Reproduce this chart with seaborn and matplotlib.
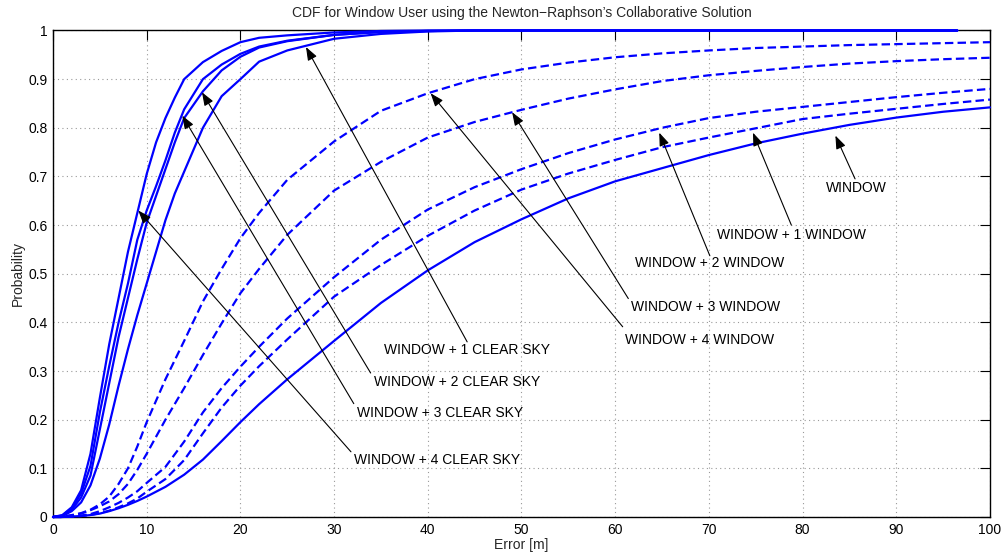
import numpy as np
import pandas as pd
import matplotlib
matplotlib.use("Agg")
import matplotlib.pyplot as plt
import seaborn as sns

# ---------------- data ----------------
x_win = [0, 1, 2, 3, 4, 5, 6, 7, 8, 9, 10, 12, 14, 16, 18, 20, 22, 25, 30, 35, 40, 45,
         50, 55, 60, 65, 70, 75, 80, 85, 90, 95, 100]

window = [0, 0, 0.001, 0.002, 0.004, 0.007, 0.012, 0.018, 0.025, 0.033, 0.042, 0.062, 0.087,
          0.118, 0.156, 0.195, 0.232, 0.283, 0.362, 0.44, 0.507, 0.565, 0.612, 0.655, 0.69,
          0.717, 0.744, 0.768, 0.788, 0.806, 0.821, 0.833, 0.842]
win_1w = [0, 0, 0.001, 0.002, 0.004, 0.008, 0.013, 0.02, 0.028, 0.038, 0.052, 0.078, 0.117,
          0.172, 0.225, 0.27, 0.31, 0.365, 0.453, 0.518, 0.578, 0.63, 0.673, 0.706, 0.734,
          0.76, 0.78, 0.799, 0.818, 0.829, 0.839, 0.849, 0.858]
win_2w = [0, 0, 0.001, 0.003, 0.006, 0.012, 0.02, 0.029, 0.04, 0.053, 0.07, 0.103, 0.155,
          0.215, 0.265, 0.309, 0.35, 0.408, 0.493, 0.57, 0.632, 0.678, 0.715, 0.748, 0.776,
          0.8, 0.82, 0.833, 0.843, 0.853, 0.863, 0.872, 0.88]
win_3w = [0, 0.001, 0.003, 0.007, 0.014, 0.022, 0.032, 0.047, 0.068, 0.097, 0.13, 0.2, 0.265,
          0.333, 0.398, 0.46, 0.51, 0.58, 0.671, 0.73, 0.78, 0.812, 0.837, 0.86, 0.879,
          0.896, 0.908, 0.917, 0.925, 0.932, 0.937, 0.941, 0.944]
win_4w = [0, 0.001, 0.004, 0.008, 0.015, 0.026, 0.042, 0.068, 0.1, 0.145, 0.195, 0.283, 0.362,
          0.443, 0.51, 0.573, 0.625, 0.693, 0.772, 0.835, 0.871, 0.9, 0.92, 0.934, 0.945,
          0.953, 0.959, 0.964, 0.967, 0.97, 0.972, 0.974, 0.976]

x_clear = [0, 1, 2, 3, 4, 5, 6, 7, 8, 9, 10, 11, 12, 13, 14, 16, 18, 20, 22, 25, 30, 35,
           40, 45, 50, 60, 70, 80, 90, 96.5]
win_1c = [0, 0.002, 0.012, 0.03, 0.065, 0.12, 0.19, 0.27, 0.345, 0.415, 0.48, 0.545, 0.61,
          0.665, 0.71, 0.8, 0.865, 0.9, 0.936, 0.959, 0.983, 0.993, 0.998, 1, 1, 1, 1, 1, 1, 1]
win_2c = [0, 0.002, 0.015, 0.04, 0.085, 0.18, 0.275, 0.37, 0.45, 0.53, 0.605, 0.66, 0.715,
          0.77, 0.82, 0.875, 0.918, 0.946, 0.965, 0.978, 0.991, 0.997, 0.999, 1, 1, 1, 1, 1, 1, 1]
win_3c = [0, 0.003, 0.018, 0.048, 0.105, 0.215, 0.31, 0.4, 0.48, 0.57, 0.63, 0.68, 0.733,
          0.79, 0.838, 0.9, 0.93, 0.952, 0.967, 0.979, 0.991, 0.997, 0.999, 1, 1, 1, 1, 1, 1, 1]
win_4c = [0, 0.004, 0.02, 0.055, 0.13, 0.245, 0.355, 0.45, 0.545, 0.625, 0.705, 0.77, 0.82,
          0.862, 0.9, 0.935, 0.958, 0.976, 0.985, 0.99, 0.996, 0.999, 1, 1, 1, 1, 1, 1, 1, 1]

labels = ["WINDOW",
          "WINDOW + 1 WINDOW", "WINDOW + 2 WINDOW", "WINDOW + 3 WINDOW", "WINDOW + 4 WINDOW",
          "WINDOW + 1 CLEAR SKY", "WINDOW + 2 CLEAR SKY", "WINDOW + 3 CLEAR SKY",
          "WINDOW + 4 CLEAR SKY"]

x_ticks = [0, 10, 20, 30, 40, 50, 60, 70, 80, 90, 100]
y_ticks = [0, 0.1, 0.2, 0.3, 0.4, 0.5, 0.6, 0.7, 0.8, 0.9, 1]
y_ticklabels = ["0", "0.1", "0.2", "0.3", "0.4", "0.5", "0.6", "0.7", "0.8", "0.9", "1"]

# ---------------- style ----------------
sns.set_style("white")
plt.rcParams["font.family"] = ["Liberation Sans", "DejaVu Sans"]
plt.rcParams["font.size"] = 10

fig = plt.figure(figsize=(10.03, 5.54), dpi=100)
ax = fig.add_axes([53 / 1003, 37 / 554, (990 - 53) / 1003, (517 - 30.5) / 554])

blue = "#0000ff"
dash = (0, (3.8, 1.9))
lw = 1.6

series = [
    (x_win, window, "-"), (x_win, win_1w, dash), (x_win, win_2w, dash),
    (x_win, win_3w, dash), (x_win, win_4w, dash),
    (x_clear, win_1c, "-"), (x_clear, win_2c, "-"), (x_clear, win_3c, "-"), (x_clear, win_4c, "-"),
]
for (xs, ys, ls), lab in zip(series, labels):
    df = pd.DataFrame({"x": xs, "y": ys})
    sns.lineplot(data=df, x="x", y="y", ax=ax, color=blue, linewidth=lw,
                 linestyle=ls, sort=False, estimator=None, clip_on=False, zorder=5)

ax.set_xlim(0, 100)
ax.set_ylim(0, 1)
ax.set_xticks(x_ticks)
ax.set_yticks(y_ticks)
ax.set_yticklabels(y_ticklabels)
ax.grid(True, linestyle=(0, (1, 3)), color="#999999", linewidth=0.8)
ax.tick_params(direction="in", length=7, width=0.8, top=True, right=True,
               labelsize=10, colors="black", pad=4)
for sp in ax.spines.values():
    sp.set_visible(True)
    sp.set_color("black")
    sp.set_linewidth(1.0)
ax.set_xlabel("Error [m]", fontsize=10, labelpad=1)
ax.set_ylabel("Probability", fontsize=10, labelpad=2)
ax.set_title("CDF for Window User using the Newton\u2212Raphson\u2019s Collaborative Solution",
             fontsize=10, pad=10)

# ---------------- annotations ----------------
# (label, arrow head (x,y), arrow tail (x,y), text centre (x,y))
annots = [
    (labels[0], (83.5, 0.784), (85.6, 0.695), (85.7, 0.676)),
    (labels[1], (74.7, 0.79), (78.8, 0.6), (78.8, 0.579)),
    (labels[2], (64.7, 0.79), (70.1, 0.537), (70.1, 0.522)),
    (labels[3], (49.0, 0.832), (61.4, 0.449), (69.6, 0.431)),
    (labels[4], (40.3, 0.871), (60.8, 0.391), (69.0, 0.363)),
    (labels[5], (27.0, 0.966), (44.2, 0.36), (44.2, 0.343)),
    (labels[6], (15.9, 0.873), (33.9, 0.296), (43.1, 0.277)),
    (labels[7], (13.8, 0.825), (32.1, 0.233), (41.3, 0.214)),
    (labels[8], (9.1, 0.63), (31.8, 0.134), (41.0, 0.117)),
]
for lab, head, tail, tpos in annots:
    ax.annotate("", xy=head, xytext=tail,
                arrowprops=dict(arrowstyle="-|>,head_length=0.8,head_width=0.3",
                                color="black", lw=0.8, shrinkA=0, shrinkB=0),
                zorder=6)
    ax.text(tpos[0], tpos[1], lab, ha="center", va="center", fontsize=10, color="black",
            zorder=7)

fig.savefig("out.png", dpi=100)
